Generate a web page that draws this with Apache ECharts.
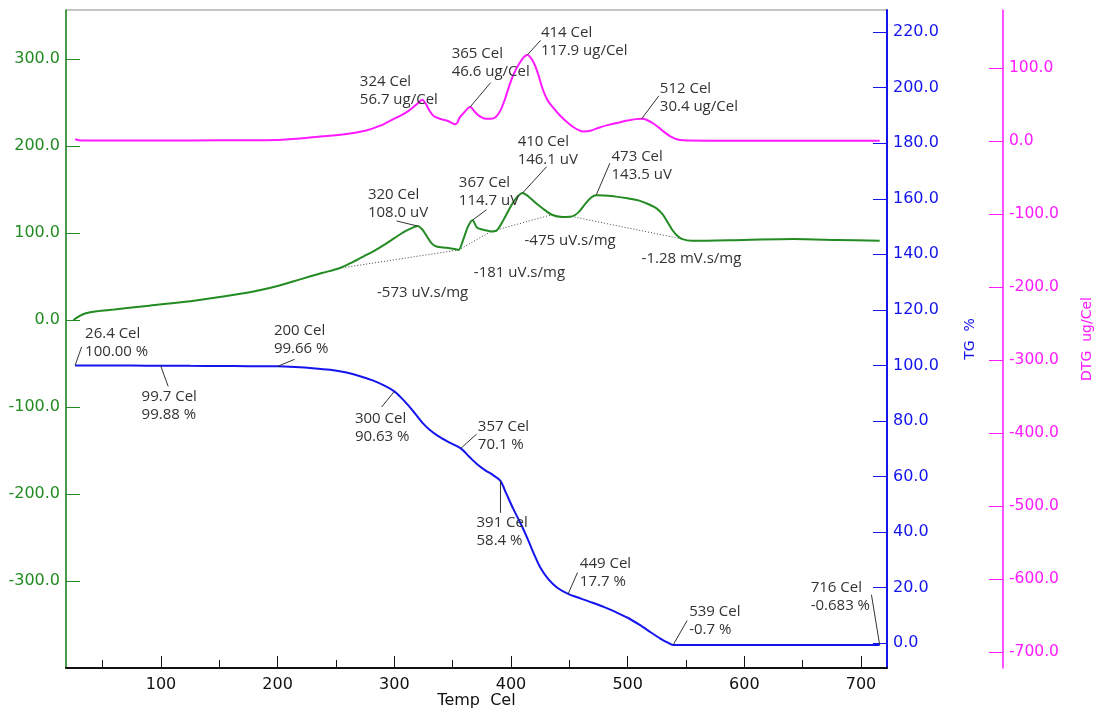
<!DOCTYPE html>
<html>
<head>
<meta charset="utf-8">
<title>TG / DTA / DTG</title>
<script src="https://cdn.jsdelivr.net/npm/echarts@6/dist/echarts.min.js"></script>
<style>
  html, body { margin: 0; padding: 0; background: #fff; }
  #chart { width: 1096px; height: 712px; }
</style>
</head>
<body>
<div id="chart"></div>
<script>
// ---------- thermogravimetry (TG, %) ----------
const tgTemp = [26.4, 50, 75, 99.7, 125, 150, 175, 200, 215, 230, 245, 259, 270, 282, 292, 300,
  306, 312, 318, 324, 330, 338, 347, 357, 364, 371, 378, 385, 391, 396, 402, 408, 414, 420, 425,
  432, 440, 449, 460, 470, 480, 490, 500, 510, 520, 528, 534, 539, 560, 600, 650, 700, 716];
const tgMass = [100.00, 99.96, 99.92, 99.88, 99.83, 99.78, 99.72, 99.66, 99.4, 99.0, 98.4, 97.4,
  96.2, 94.5, 92.6, 90.63, 88.3, 85.6, 82.5, 79.4, 76.9, 74.4, 72.3, 70.1, 67.2, 64.4, 62.2, 60.4,
  58.4, 53.8, 48.3, 43.3, 37.8, 31.8, 27.3, 23.0, 19.8, 17.7, 16.0, 14.5, 12.9, 11.1, 9.1, 6.6,
  3.8, 1.6, 0.2, -0.7, -0.7, -0.7, -0.69, -0.685, -0.683];

// ---------- differential thermal analysis (DTA, uV) ----------
const dtaTemp = [25, 30, 35, 45, 60, 90, 130, 175, 200, 220, 238, 253, 262, 272, 282, 292, 300,
  308, 314, 320, 324, 328, 332, 336, 345, 352, 355, 359, 363, 367, 371, 377, 383, 388, 394, 400,
  405, 410, 415, 420, 427, 435, 444, 452, 458, 464, 469, 473, 480, 490, 500, 510, 518, 525, 530,
  534, 538, 542, 547, 555, 600, 642, 680, 716];
const dtaSignal = [0, 4.5, 7.5, 10, 12, 16.5, 22.5, 31.5, 39, 47, 54, 59.5, 65, 72, 79, 87, 94,
  101, 105, 108.0, 104, 96, 88, 84.5, 83, 81.5, 80.5, 92, 107, 114.7, 106, 103.5, 101.8, 103.2,
  116, 131, 141, 146.1, 142, 136, 128.5, 121, 118.5, 119, 124, 134, 141, 143.5, 143, 141.8, 139.8,
  137.2, 133, 128, 121.5, 113, 104, 97.5, 93, 91, 92, 93, 92, 91];

// ---------- derivative thermogravimetry (DTG, ug/Cel) ----------
const dtgTemp = [26.4, 32, 50, 100, 150, 200, 230, 259, 275, 288, 298, 305, 312, 316, 320, 324,
  327, 330, 334, 340, 346, 352, 354, 356, 360, 365, 369, 373, 378, 383, 387, 391, 395, 399, 403,
  407, 411, 414, 419, 423, 427, 431, 436, 442, 448, 453, 458, 462, 468, 476, 485, 493, 500, 507,
  512, 517, 522, 527, 532, 537, 542, 548, 570, 650, 716];
const dtgRate = [2.5, 0.8, 0.7, 0.8, 1.0, 1.5, 5, 9.5, 14, 21, 29, 34.5, 41, 46, 51.5, 56.7, 51,
  42, 34, 30, 27.5, 23, 25, 32, 39.5, 46.6, 40, 34, 30.5, 30.5, 33, 42, 58, 78, 94, 106, 115, 117.9,
  109, 93, 72, 57, 46, 35, 26, 19.5, 15, 13, 14, 18.6, 22.5, 25.5, 28, 30, 30.4, 28.5, 24, 18,
  11.5, 6, 2.5, 1.0, 0.5, 0.4, 0.3];

// ---------- evaluated points ----------
const tgMarkTemp = ['26.4', '99.7', '200', '300', '357', '391', '449', '539', '716'];
const tgMarkValue = ['100.00', '99.88', '99.66', '90.63', '70.1', '58.4', '17.7', '-0.7', '-0.683'];
const dtaPeakTemp = ['320', '367', '410', '473'];
const dtaPeakValue = ['108.0', '114.7', '146.1', '143.5'];
const dtgPeakTemp = ['324', '365', '414', '512'];
const dtgPeakValue = ['56.7', '46.6', '117.9', '30.4'];

// DTA peak integration baselines (start / end on the curve) and peak areas
const dtaBaseStart = [[253, 59.5], [355, 80.5], [383, 101.8], [452, 119]];
const dtaBaseEnd = [[355, 80.5], [383, 101.8], [435, 121], [547, 93]];
const dtaAreaText = ['-573 uV.s/mg', '-181 uV.s/mg', '-475 uV.s/mg', '-1.28 mV.s/mg'];

// ---------- axis ticks ----------
const tempTicks = [100, 200, 300, 400, 500, 600, 700];
const tempMinorTicks = [50, 150, 250, 350, 450, 550, 650];
const dtaTicks = [-300, -200, -100, 0, 100, 200, 300];
const tgTicks = [0, 20, 40, 60, 80, 100, 120, 140, 160, 180, 200, 220];
const dtgTicks = [-700, -600, -500, -400, -300, -200, -100, 0, 100];

// ---------- label placement (pixel offsets from the point: leader end x/y, text x/y) ----------
const tgMarkLayout = [[6.6, -18.6, 10, -31.6], [7.6, 20.7, -19, 30.7], [17, -7, -3.7, -35.5],
  [-12.7, 15.7, -39.4, 27.4], [15.8, -14.3, 17, -22], [0, 32, -24, 41.6], [9.4, -21.4, 11.7, -29.8],
  [14, -24.5, 16, -33], [-8.2, -50.2, -69, -57.5]];
const dtaPeakLayout = [[-21, -5, -49.7, -31], [14, -10.5, -13.6, -37], [24, -26.2, -5, -51.2],
  [13.7, -31.9, 15.4, -38.5]];
const dtgPeakLayout = [[null, null, -62.5, -18], [20.5, -24.4, -18.5, -53.6], [13.3, -14.6, 13.6, -22.2],
  [17.2, -23, 18.2, -30.5]];
const dtaAreaLayout = [[-22, 34], [-1, 32.5], [3, 17.6], [14.5, 30.5]];

const GREEN = '#228b22', BLUE = '#1414ee', MAGENTA = '#ff1aff', TEXT = '#333333';
const AXIS_FONT = 'DejaVu Sans';
const NOTE_FONT = 'Open Sans';

const zip = (a, b) => a.map((v, i) => [v, b[i]]);
const fmt1 = v => v.toFixed(1);

function noteSeries(yAxisIndex, temps, values, unit, layout) {
  return {
    type: 'custom', xAxisIndex: 0, yAxisIndex, clip: false, silent: true, z: 10,
    data: temps.map((t, i) => [Number(t), Number(values[i]), i]),
    encode: { x: 0, y: 1 },
    renderItem(params, api) {
      const i = api.value(2);
      const p = api.coord([api.value(0), api.value(1)]);
      const [lx, ly, tx, ty] = layout[i];
      const children = [];
      if (lx !== null) {
        children.push({ type: 'line', shape: { x1: p[0], y1: p[1], x2: p[0] + lx, y2: p[1] + ly },
          style: { stroke: TEXT, lineWidth: 1 } });
      }
      [temps[i] + ' Cel', values[i] + ' ' + unit].forEach((s, k) => {
        children.push({ type: 'text', x: p[0] + tx, y: p[1] + ty + k * 18,
          style: { text: s, fill: TEXT, fontSize: 15, fontFamily: NOTE_FONT, align: 'left', verticalAlign: 'middle' } });
      });
      return { type: 'group', children };
    }
  };
}

const baselineSeries = {
  type: 'custom', xAxisIndex: 0, yAxisIndex: 0, clip: false, silent: true, z: 4,
  data: dtaBaseStart.map((s, i) => [s[0], s[1], dtaBaseEnd[i][0], dtaBaseEnd[i][1], i]),
  encode: { x: [0, 2], y: [1, 3] },
  renderItem(params, api) {
    const i = api.value(4);
    const a = api.coord([api.value(0), api.value(1)]);
    const b = api.coord([api.value(2), api.value(3)]);
    const mx = (a[0] + b[0]) / 2, my = (a[1] + b[1]) / 2;
    const [tx, ty] = dtaAreaLayout[i];
    return { type: 'group', children: [
      { type: 'line', shape: { x1: a[0], y1: a[1], x2: b[0], y2: b[1] },
        style: { stroke: '#444', lineWidth: 1, lineDash: [1, 2] } },
      { type: 'text', x: mx + tx, y: my + ty,
        style: { text: dtaAreaText[i], fill: TEXT, fontSize: 15, fontFamily: NOTE_FONT, align: 'left', verticalAlign: 'middle' } }
    ] };
  }
};

const chart = echarts.init(document.getElementById('chart'), null, { renderer: 'canvas' });

chart.setOption({
  animation: false,
  backgroundColor: '#ffffff',
  grid: { left: 66, right: 209, top: 10, bottom: 44, show: true, borderColor: '#8a8a8a', borderWidth: 1,
    backgroundColor: 'transparent', containLabel: false, outerBoundsMode: 'none' },
  xAxis: [
    {
      type: 'value', min: 18.6, max: 722.3, position: 'bottom',
      name: 'Temp  Cel', nameLocation: 'middle', nameGap: 25, nameMoveOverlap: false,
      nameTextStyle: { color: '#111', fontSize: 16, fontFamily: AXIS_FONT },
      axisLine: { onZero: false, lineStyle: { color: '#111', width: 2 } },
      axisTick: { show: true, inside: true, length: 12, customValues: tempTicks, lineStyle: { color: '#111', width: 1 } },
      axisLabel: { customValues: tempTicks, color: '#111', fontSize: 16, fontFamily: AXIS_FONT, margin: 9 },
      splitLine: { show: false }
    },
    {
      type: 'value', min: 18.6, max: 722.3, position: 'bottom',
      axisLine: { show: false, onZero: false },
      axisTick: { show: true, inside: true, length: 8, customValues: tempMinorTicks, lineStyle: { color: '#111', width: 1 } },
      axisLabel: { show: false },
      splitLine: { show: false }
    }
  ],
  yAxis: [
    {
      type: 'value', min: -400, max: 356.3, position: 'left',
      axisLine: { show: true, onZero: false, lineStyle: { color: GREEN, width: 1.5 } },
      axisTick: { show: true, inside: true, length: 14, customValues: dtaTicks, lineStyle: { color: GREEN } },
      axisLabel: { customValues: dtaTicks, formatter: fmt1, color: GREEN, fontSize: 16, fontFamily: AXIS_FONT, margin: 6 },
      splitLine: { show: false }
    },
    {
      type: 'value', min: -9, max: 228, position: 'right',
      name: 'TG  %', nameLocation: 'middle', nameRotate: 90, nameGap: 76, nameMoveOverlap: false,
      nameTextStyle: { color: BLUE, fontSize: 14, fontFamily: AXIS_FONT },
      axisLine: { show: true, onZero: false, lineStyle: { color: BLUE, width: 2 } },
      axisTick: { show: true, inside: true, length: 14, customValues: tgTicks, lineStyle: { color: BLUE } },
      axisLabel: { customValues: tgTicks, formatter: fmt1, color: BLUE, fontSize: 16, fontFamily: AXIS_FONT, margin: 6 },
      splitLine: { show: false }
    },
    {
      type: 'value', min: -722, max: 179.5, position: 'right', offset: 116,
      name: 'DTG  ug/Cel', nameLocation: 'middle', nameRotate: 90, nameGap: 77, nameMoveOverlap: false,
      nameTextStyle: { color: MAGENTA, fontSize: 14, fontFamily: AXIS_FONT },
      axisLine: { show: true, onZero: false, lineStyle: { color: MAGENTA, width: 1.5 } },
      axisTick: { show: true, inside: true, length: 14, customValues: dtgTicks, lineStyle: { color: MAGENTA } },
      axisLabel: { customValues: dtgTicks, formatter: fmt1, color: MAGENTA, fontSize: 15.5, fontFamily: AXIS_FONT, margin: 6 },
      splitLine: { show: false }
    }
  ],
  series: [
    { name: 'DTA', type: 'line', xAxisIndex: 0, yAxisIndex: 0, data: zip(dtaTemp, dtaSignal),
      showSymbol: false, smooth: 0.3, lineStyle: { color: GREEN, width: 2 }, z: 5 },
    { name: 'TG', type: 'line', xAxisIndex: 0, yAxisIndex: 1, data: zip(tgTemp, tgMass),
      showSymbol: false, smooth: 0.3, lineStyle: { color: BLUE, width: 2 }, z: 5 },
    { name: 'DTG', type: 'line', xAxisIndex: 0, yAxisIndex: 2, data: zip(dtgTemp, dtgRate),
      showSymbol: false, smooth: 0.3, lineStyle: { color: MAGENTA, width: 2 }, z: 5 },
    baselineSeries,
    noteSeries(1, tgMarkTemp, tgMarkValue, '%', tgMarkLayout),
    noteSeries(0, dtaPeakTemp, dtaPeakValue, 'uV', dtaPeakLayout),
    noteSeries(2, dtgPeakTemp, dtgPeakValue, 'ug/Cel', dtgPeakLayout)
  ]
});
</script>
</body>
</html>
